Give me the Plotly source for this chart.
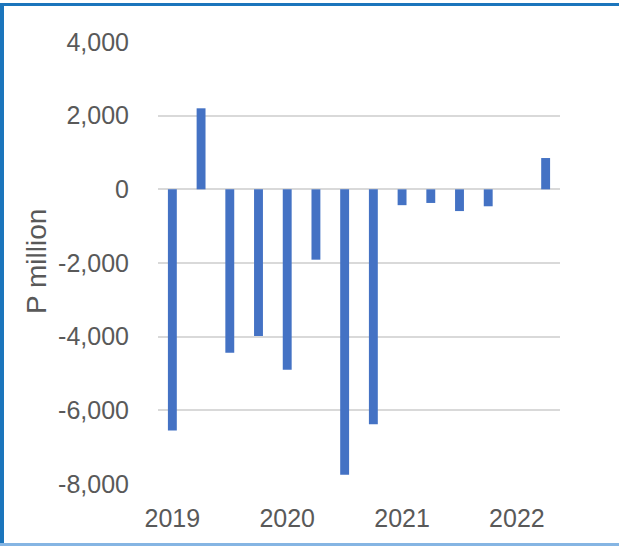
import plotly.graph_objects as go

quarters = ["2019Q1", "2019Q2", "2019Q3", "2019Q4",
            "2020Q1", "2020Q2", "2020Q3", "2020Q4",
            "2021Q1", "2021Q2", "2021Q3", "2021Q4",
            "2022Q1", "2022Q2"]
values = [-6550, 2200, -4440, -3980,
          -4900, -1910, -7750, -6380,
          -430, -370, -590, -460,
          None, 850]
year_ticks = ["2019Q1", "2020Q1", "2021Q1", "2022Q1"]
year_labels = ["2019", "2020", "2021", "2022"]
y_ticks = [-8000, -6000, -4000, -2000, 0, 2000, 4000]
y_labels = ["-8,000", "-6,000", "-4,000", "-2,000", "0", "2,000", "4,000"]

W, H = 619, 546
L, R, T, B = 158, 59, 42, 62
pw, ph = W - L - R, H - T - B

def px(x):
    return (x - L) / pw

def py(y):
    return (H - B - y) / ph

FONT = "Liberation Sans"
GRAY = "#595959"

fig = go.Figure(go.Bar(
    x=quarters, y=values, marker_color="#4472C4", width=0.31,
    marker_line_width=0,
))

fig.update_layout(
    width=W, height=H,
    margin=dict(l=L, r=R, t=T, b=B),
    paper_bgcolor="white", plot_bgcolor="white",
    showlegend=False,
    font=dict(family=FONT, size=25, color=GRAY),
    xaxis=dict(
        type="category", categoryorder="array", categoryarray=quarters,
        tickvals=year_ticks, ticktext=year_labels,
        showgrid=False, showline=False, zeroline=False,
        ticks="", ticklabelstandoff=17,
        tickfont=dict(family=FONT, size=25, color=GRAY),
    ),
    yaxis=dict(
        range=[-8000, 4000], tickvals=y_ticks, ticktext=y_labels,
        showgrid=True, gridcolor="#d9d9d9", gridwidth=1.8,
        zeroline=True, zerolinecolor="#d9d9d9", zerolinewidth=1.8,
        showline=False, ticks="", ticklabelstandoff=28,
        tickfont=dict(family=FONT, size=25, color=GRAY),
    ),
    annotations=[dict(
        text="P million", textangle=-90, xref="paper", yref="paper",
        x=px(36), y=py(262), xanchor="center", yanchor="middle",
        showarrow=False, font=dict(family=FONT, size=28, color=GRAY),
    )],
    shapes=[
        dict(type="rect", xref="paper", yref="paper", layer="above",
             x0=px(0), x1=px(4), y0=py(546), y1=py(3),
             fillcolor="#1B75BC", line_width=0),
        dict(type="rect", xref="paper", yref="paper", layer="above",
             x0=px(0), x1=px(619), y0=py(6), y1=py(3),
             fillcolor="#1B75BC", line_width=0),
        dict(type="rect", xref="paper", yref="paper", layer="above",
             x0=px(0), x1=px(619), y0=py(546), y1=py(543),
             fillcolor="#85B5E3", line_width=0),
    ],
)

fig.write_html("out.html")
